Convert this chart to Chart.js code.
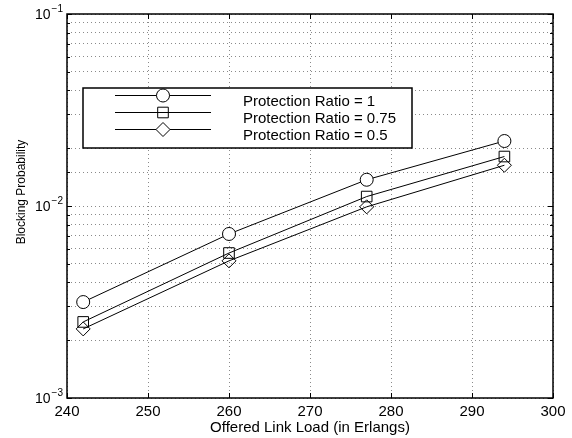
<!DOCTYPE html>
<html>
<head>
<meta charset="utf-8">
<script src="https://cdn.jsdelivr.net/npm/chart.js@4/dist/chart.umd.min.js"></script>
<style>
html,body{margin:0;padding:0;background:#fff;}
#wrap{width:572px;height:438px;}
</style>
</head>
<body>
<div id="wrap"><canvas id="c" width="572" height="438"></canvas></div>
<script>
const loads = [242, 260, 277, 294];
const ratio1 = [0.00316, 0.00715, 0.0137, 0.0218];
const ratio075 = [0.00249, 0.00569, 0.0112, 0.0181];
const ratio05 = [0.00229, 0.00518, 0.0099, 0.0163];
const seriesNames = ['Protection Ratio = 1', 'Protection Ratio = 0.75', 'Protection Ratio = 0.5'];
const xTicks = [240, 250, 260, 270, 280, 290, 300];
const yDecades = [-3, -2, -1];
const xTitle = 'Offered Link Load (in Erlangs)';
const yTitle = 'Blocking Probability';

const FONT = 'Liberation Sans, Arial, Helvetica, sans-serif';
const styles = [
  {pointStyle:'circle', radius:6.5, fill:'#fff', legendFill:'#fff'},
  {pointStyle:'rect', radius:7.5, fill:'rgba(0,0,0,0)', legendFill:'rgba(0,0,0,0)'},
  {pointStyle:'rectRot', radius:7, fill:'rgba(0,0,0,0)', legendFill:'#fff'}
];
const allSeries = [ratio1, ratio075, ratio05];

const datasets = allSeries.map((vals, i) => ({
  label: seriesNames[i],
  data: loads.map((x, j) => ({x: x, y: vals[j]})),
  borderColor: '#000',
  borderWidth: 1,
  backgroundColor: 'rgba(0,0,0,0)',
  pointStyle: styles[i].pointStyle,
  pointRadius: styles[i].radius,
  pointBorderColor: '#000',
  pointBackgroundColor: styles[i].fill,
  pointBorderWidth: 1,
  tension: 0
}));

const framePlugin = {
  id: 'frame',
  afterDraw(chart) {
    const ctx = chart.ctx;
    const a = chart.chartArea;
    const xs = chart.scales.x, ys = chart.scales.y;
    ctx.save();
    ctx.strokeStyle = '#000';
    ctx.lineWidth = 1;
    ctx.setLineDash([]);
    ctx.beginPath();
    xTicks.forEach(v => {
      const px = Math.round(xs.getPixelForValue(v)) + 0.5;
      ctx.moveTo(px, a.bottom); ctx.lineTo(px, a.bottom - 5);
      ctx.moveTo(px, a.top); ctx.lineTo(px, a.top + 5);
    });
    ys.ticks.forEach(t => {
      const v = t.value;
      const lg = Math.log10(v);
      const major = Math.abs(lg - Math.round(lg)) < 1e-9;
      const len = major ? 5 : 3;
      const py = Math.round(ys.getPixelForValue(v)) + 0.5;
      ctx.moveTo(a.left, py); ctx.lineTo(a.left + len, py);
      ctx.moveTo(a.right, py); ctx.lineTo(a.right - len, py);
    });
    ctx.stroke();
    ctx.lineWidth = 1.5;
    ctx.strokeRect(a.left, a.top, a.right - a.left, a.bottom - a.top);
    // y labels with superscripts
    ctx.fillStyle = '#000';
    yDecades.forEach(d => {
      const py = ys.getPixelForValue(Math.pow(10, d));
      const supTxt = '\u2212' + Math.abs(d);
      ctx.font = '10px ' + FONT;
      const sw = ctx.measureText(supTxt).width;
      const baseRight = a.left - 5 - sw;
      ctx.font = '14px ' + FONT;
      ctx.textBaseline = 'middle';
      ctx.textAlign = 'right';
      ctx.fillText('10', baseRight, py + 1.5);
      ctx.font = '10px ' + FONT;
      ctx.textAlign = 'left';
      ctx.fillText(supTxt, baseRight + 1, py - 5);
    });
    // y title
    ctx.save();
    ctx.translate(22, 192);
    ctx.rotate(-Math.PI / 2);
    ctx.font = '12px ' + FONT;
    ctx.textAlign = 'center';
    ctx.textBaseline = 'middle';
    ctx.fillText(yTitle, 0, 0);
    ctx.restore();
    // legend
    const lx = 83, ly = 88, lw = 329, lh = 60;
    ctx.fillStyle = '#fff';
    ctx.fillRect(lx, ly, lw, lh);
    ctx.lineWidth = 1.5;
    ctx.strokeStyle = '#000';
    ctx.strokeRect(lx, ly, lw, lh);
    const rows = [95.5, 112.5, 129.5];
    rows.forEach((ry, i) => {
      ctx.lineWidth = 1;
      ctx.beginPath();
      ctx.moveTo(115, ry); ctx.lineTo(211, ry);
      ctx.stroke();
      ctx.fillStyle = styles[i].legendFill;
      Chart.helpers.drawPoint(ctx, {pointStyle: styles[i].pointStyle, radius: styles[i].radius, rotation: 0, borderWidth: 1}, 163, ry);
      ctx.fillStyle = '#000';
      ctx.font = '15px ' + FONT;
      ctx.textAlign = 'left';
      ctx.textBaseline = 'middle';
      ctx.fillText(seriesNames[i], 243, ry + 6);
    });
    ctx.restore();
  }
};

new Chart(document.getElementById('c'), {
  type: 'line',
  data: { datasets: datasets },
  options: {
    responsive: false,
    animation: false,
    devicePixelRatio: 1,
    layout: { padding: { top: 14, right: 19, left: 0, bottom: 0 } },
    plugins: { legend: { display: false }, tooltip: { enabled: false } },
    scales: {
      x: {
        type: 'linear',
        min: 240, max: 300,
        afterBuildTicks(s) { s.ticks = xTicks.map(v => ({value: v})); },
        ticks: { color: '#000', font: { family: FONT, size: 15 }, padding: 5, maxRotation: 0, autoSkip: false },
        grid: { color: '#8a8a8a', lineWidth: 1, drawTicks: false },
        border: { display: false, dash: [1, 3] },
        title: { display: true, text: xTitle, color: '#000', font: { family: FONT, size: 15 }, padding: { top: 0, bottom: 1 } },
        afterFit(s) { s.height = 40; }
      },
      y: {
        type: 'logarithmic',
        min: 0.001, max: 0.1,
        ticks: { callback: () => '', autoSkip: false },
        grid: { color: '#8a8a8a', lineWidth: 1, drawTicks: false },
        border: { display: false, dash: [1, 3] },
        title: { display: false },
        afterFit(s) { s.width = 67; }
      }
    }
  },
  plugins: [framePlugin]
});
</script>
</body>
</html>
